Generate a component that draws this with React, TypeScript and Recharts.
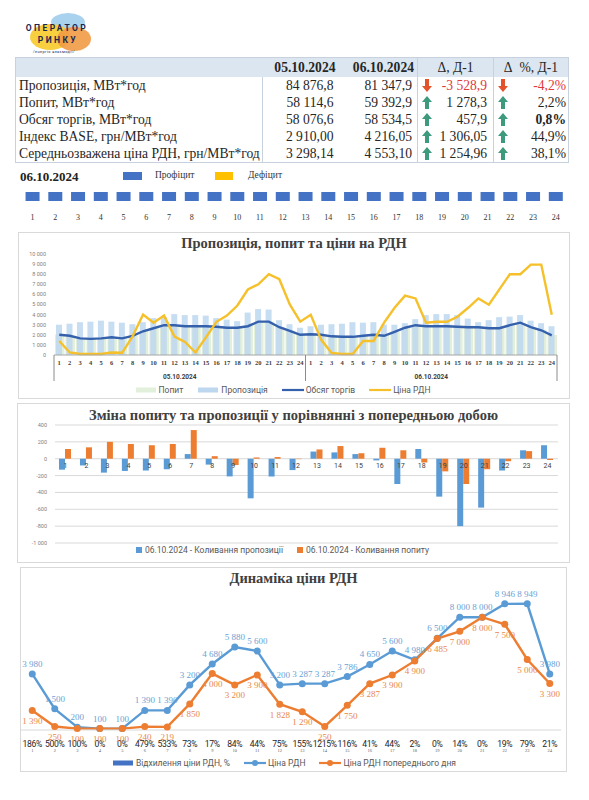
import React from 'react';
import {
  ComposedChart, BarChart, LineChart, Bar, Line, XAxis, YAxis, CartesianGrid, Legend, LabelList, Cell
} from 'recharts';

// ---- summary table ----
const ROW_LABELS = [
  'Пропозиція, МВт*год',
  'Попит, МВт*год',
  'Обсяг торгів, МВт*год',
  'Індекс BASE, грн/МВт*год',
  'Середньозважена ціна РДН, грн/МВт*год',
];
const PREV_DATE = '05.10.2024';
const CURR_DATE = '06.10.2024';
const PREV_VALUES = ['84 876,8', '58 114,6', '58 076,6', '2 910,00', '3 298,14'];
const CURR_VALUES = ['81 347,9', '59 392,9', '58 534,5', '4 216,05', '4 553,10'];
const DELTA_VALUES = ['-3 528,9', '1 278,3', '457,9', '1 306,05', '1 254,96'];
const DELTA_PCT = ['-4,2%', '2,2%', '0,8%', '44,9%', '38,1%'];

// ---- hourly data ----
const HOURS = [1, 2, 3, 4, 5, 6, 7, 8, 9, 10, 11, 12, 13, 14, 15, 16, 17, 18, 19, 20, 21, 22, 23, 24];
const BALANCE = [
  'Профіцит', 'Профіцит', 'Профіцит', 'Профіцит', 'Профіцит', 'Профіцит', 'Профіцит', 'Профіцит',
  'Профіцит', 'Профіцит', 'Профіцит', 'Профіцит', 'Профіцит', 'Профіцит', 'Профіцит', 'Профіцит',
  'Профіцит', 'Профіцит', 'Профіцит', 'Профіцит', 'Профіцит', 'Профіцит', 'Профіцит', 'Профіцит',
];

const supplyPrev = [3000, 3100, 3250, 3300, 3400, 3300, 3200, 3050, 3250, 3650, 3750, 4050, 3950, 3950, 3900, 3650, 3500, 3350, 4200, 4550, 4500, 3450, 3050, 2700];
const supplyCurr = [2850, 3000, 3050, 3100, 3250, 3200, 3250, 3000, 3000, 3150, 3550, 3950, 4050, 4050, 3950, 3600, 3250, 3450, 3750, 3800, 3950, 3400, 3150, 2850];
const demandPrev = [2020, 1920, 1660, 1620, 1660, 1760, 1670, 1920, 2370, 2670, 2960, 2960, 2860, 2860, 2860, 2800, 2710, 2710, 2860, 3300, 3310, 2760, 2410, 2010];
const demandCurr = [2130, 2050, 1860, 1790, 1820, 1940, 2010, 1950, 2300, 2690, 2980, 2950, 2970, 3010, 2920, 2930, 2810, 2670, 2710, 3000, 3190, 2730, 2500, 1990];
const volumePrev = [2000, 1900, 1650, 1600, 1650, 1750, 1650, 1900, 2350, 2650, 2950, 2950, 2850, 2850, 2850, 2800, 2700, 2700, 2850, 3300, 3300, 2750, 2400, 2000];
const volumeCurr = [2050, 2000, 1850, 1800, 1800, 1900, 2000, 1900, 2300, 2700, 2950, 2850, 2850, 2850, 2800, 2750, 2750, 2650, 2650, 2950, 3200, 2750, 2450, 1950];
const pricePrev = [1390, 250, 100, 100, 100, 240, 219, 1850, 4000, 3200, 3900, 1828, 1290, 250, 1750, 3287, 3900, 4900, 6485, 7000, 8000, 7500, 5000, 3300];
const priceCurr = [3980, 1500, 200, 100, 100, 1390, 1390, 3200, 4680, 5880, 5600, 3200, 3287, 3287, 3786, 4650, 5600, 4980, 6500, 8000, 8000, 8946, 8949, 3980];

const supplyChange = [-130, -80, -165, -145, -140, -125, 55, -70, -210, -470, -210, -135, 85, 75, 55, -20, -300, 115, -450, -800, -580, -140, 100, 160];
const demandChange = [115, 135, 200, 175, 160, 175, 340, 30, -75, 15, 20, -5, 110, 150, 65, 130, 100, -45, -150, -300, -125, -30, 90, -15];

const priceDeviation = ['186%', '500%', '100%', '0%', '0%', '479%', '533%', '73%', '17%', '84%', '44%', '75%', '155%', '1215%', '116%', '41%', '44%', '2%', '0%', '14%', '0%', '19%', '79%', '21%'];

const CH1_TICKS = [0, 1000, 2000, 3000, 4000, 5000, 6000, 7000, 8000, 9000, 10000];
const CH2_TICKS = [-1000, -800, -600, -400, -200, 0, 200, 400];

// thousands separated by a non-breaking space so tick labels never wrap
const fmt = (v: number) => (v < 0 ? '-' : '') + String(Math.abs(v)).replace(/\B(?=(\d{3})+(?!\d))/g, '\u00a0');

const SANS = 'Roboto, "Liberation Sans", sans-serif';
const SERIF = '"Liberation Serif", "Times New Roman", serif';

const statusRows = HOURS.map((h, i) => ({ hour: h, status: BALANCE[i], filled: 1 }));

const chart1Rows = [
  ...HOURS.map((h, i) => ({ key: `a${h}`, hour: h, date: PREV_DATE, supply: supplyPrev[i], demand: demandPrev[i], volume: volumePrev[i], price: pricePrev[i] })),
  ...HOURS.map((h, i) => ({ key: `b${h}`, hour: h, date: CURR_DATE, supply: supplyCurr[i], demand: demandCurr[i], volume: volumeCurr[i], price: priceCurr[i] })),
];

const chart2Rows = HOURS.map((h, i) => ({ hour: h, supply: supplyChange[i], demand: demandChange[i], base: 0 }));

const chart3Rows = HOURS.map((h, i) => ({ hour: h, curr: priceCurr[i], prev: pricePrev[i], dev: priceDeviation[i] }));

// chart 1 geometry
const CH1_W = 552;
const CH1_H = 167;
const CH1_MARGIN = { top: 22, right: 13, bottom: 2, left: 4 };
const CH1_YW = 32;
const CH1_BAND = (CH1_W - CH1_MARGIN.left - CH1_YW - CH1_MARGIN.right) / chart1Rows.length;

// chart 3 geometry
const CH3_W = 547;
const CH3_MARGIN = { top: 22, right: 6, bottom: 2, left: 1 };
const CH3_HALF = (CH3_W - CH3_MARGIN.left - CH3_MARGIN.right) / HOURS.length / 2;

const Arrow = ({ up }: { up: boolean }) => (
  <svg width={10} height={13} viewBox="0 0 10 13" style={{ position: 'absolute', left: 4, top: 2 }}>
    <polygon
      points={up ? '5,0 10,6 7,6 7,13 3,13 3,6 0,6' : '5,13 10,7 7,7 7,0 3,0 3,7 0,7'}
      fill={up ? '#3d9a7c' : '#e2532b'}
    />
  </svg>
);

const Logo = () => (
  <svg width={80} height={48} style={{ position: 'absolute', left: 18, top: 10 }}>
    <ellipse cx={50} cy={12} rx={17} ry={9} fill="#a9d2ef" />
    <ellipse cx={32} cy={27} rx={20} ry={13} fill="#f7cf3f" />
    <ellipse cx={56} cy={29} rx={17} ry={12} fill="#f19a45" opacity={0.9} />
    <text x={39} y={21} textAnchor="middle" fontSize={8.5} fontWeight="bold" letterSpacing={2.4} fill="#1d2550" fontFamily={SANS}>ОПЕРАТОР</text>
    <text x={40} y={33} textAnchor="middle" fontSize={8.5} fontWeight="bold" letterSpacing={2.4} fill="#1d2550" fontFamily={SANS}>РИНКУ</text>
    <text x={36} y={43} textAnchor="middle" fontSize={3.8} letterSpacing={0.4} fill="#1d2550" fontFamily={SANS}>/енергія взаємодії/</text>
  </svg>
);

const SummaryTable = () => {
  const cell: React.CSSProperties = { padding: 0, height: 17, lineHeight: '17px', whiteSpace: 'nowrap', overflow: 'hidden' };
  const sep = '1px solid #c8d2de';
  return (
    <table style={{ position: 'absolute', left: 15, top: 57, borderCollapse: 'collapse', tableLayout: 'fixed', width: 553, fontFamily: SERIF, fontSize: 13.6, color: '#262626', border: sep }}>
      <colgroup>
        <col style={{ width: 247 }} />
        <col style={{ width: 76 }} />
        <col style={{ width: 79 }} />
        <col style={{ width: 76 }} />
        <col style={{ width: 75 }} />
      </colgroup>
      <thead>
        <tr style={{ background: '#dce6f1', height: 19 }}>
          <th style={{ ...cell, height: 19 }} />
          <th style={{ ...cell, height: 19, textAlign: 'right', paddingRight: 3 }}>{PREV_DATE}</th>
          <th style={{ ...cell, height: 19, textAlign: 'right', paddingRight: 3 }}>{CURR_DATE}</th>
          <th style={{ ...cell, height: 19, fontWeight: 'normal', textAlign: 'center', borderLeft: sep }}>Δ, Д-1</th>
          <th style={{ ...cell, height: 19, fontWeight: 'normal', textAlign: 'center', borderLeft: sep }}>Δ&nbsp;&nbsp;%, Д-1</th>
        </tr>
      </thead>
      <tbody>
        {ROW_LABELS.map((label, i) => {
          const up = !DELTA_VALUES[i].startsWith('-');
          const color = up ? '#262626' : '#e03b3b';
          return (
            <tr key={label}>
              <td style={{ ...cell, paddingLeft: 3, borderRight: sep }}>{label}</td>
              <td style={{ ...cell, textAlign: 'right', paddingRight: 5 }}>{PREV_VALUES[i]}</td>
              <td style={{ ...cell, textAlign: 'right', paddingRight: 5 }}>{CURR_VALUES[i]}</td>
              <td style={{ ...cell, textAlign: 'right', paddingRight: 6, position: 'relative', borderLeft: sep, color }}>
                <Arrow up={up} />
                {DELTA_VALUES[i]}
              </td>
              <td style={{ ...cell, textAlign: 'right', paddingRight: 2, position: 'relative', borderLeft: sep, color, fontWeight: i === 2 ? 'bold' : 'normal' }}>
                <Arrow up={up} />
                {DELTA_PCT[i]}
              </td>
            </tr>
          );
        })}
      </tbody>
    </table>
  );
};

const StatusTick = (props: any) => {
  const { x, y, payload } = props;
  return (
    <text x={x} y={y + 19} textAnchor="middle" fontSize={8} fill="#333" fontFamily={SERIF}>{payload.value}</text>
  );
};

const StatusStrip = () => (
  <div style={{ position: 'absolute', left: 0, top: 166 }}>
    <div style={{ position: 'absolute', left: 20, top: 3, fontFamily: SERIF, fontWeight: 'bold', fontSize: 13, color: '#222', whiteSpace: 'nowrap' }}>{CURR_DATE}</div>
    <div style={{ position: 'absolute', left: 123, top: 6, width: 19, height: 8, background: '#4472c4' }} />
    <div style={{ position: 'absolute', left: 155, top: 4, fontFamily: SERIF, fontSize: 9.5, color: '#333' }}>Профіцит</div>
    <div style={{ position: 'absolute', left: 215, top: 6, width: 18, height: 8, background: '#ffc000' }} />
    <div style={{ position: 'absolute', left: 248, top: 4, fontFamily: SERIF, fontSize: 9.5, color: '#333' }}>Дефіцит</div>
    <div style={{ position: 'absolute', left: 21, top: 24 }}>
      <BarChart width={546} height={36} data={statusRows} margin={{ top: 2, right: 0, bottom: 0, left: 0 }} barCategoryGap="20%">
        <XAxis dataKey="hour" interval={0} axisLine={false} tickLine={false} tickSize={0} tickMargin={0} height={25} tick={<StatusTick />} />
        <YAxis hide domain={[0, 1]} />
        <Bar dataKey="filled" isAnimationActive={false}>
          {statusRows.map((r) => (
            <Cell key={r.hour} fill={r.status === 'Профіцит' ? '#4472c4' : '#ffc000'} />
          ))}
        </Bar>
      </BarChart>
    </div>
  </div>
);

const Panel = ({ left, top, width, height, title, titleTop, children }: any) => (
  <div style={{ position: 'absolute', left, top, width, height, border: '1px solid #d9d9d9', boxSizing: 'border-box', background: '#fff' }}>
    <div style={{ position: 'absolute', left: 0, top: titleTop, width: '100%', textAlign: 'center', fontFamily: SERIF, fontWeight: 'bold', fontSize: 14.5, color: '#404040', whiteSpace: 'nowrap' }}>{title}</div>
    <div style={{ position: 'absolute', left: -1, top: -1 }}>{children}</div>
  </div>
);

const LegendItem = ({ kind, color, label }: { kind: 'box' | 'square' | 'line' | 'dotline'; color: string; label: string }) => (
  <span style={{ display: 'inline-flex', alignItems: 'center', marginRight: 14 }}>
    <svg width={kind === 'square' ? 7 : 22} height={8} style={{ marginRight: 2 }}>
      {kind === 'box' && <rect x={1} y={1.5} width={20} height={5} fill={color} />}
      {kind === 'square' && <rect x={0} y={1} width={6} height={6} fill={color} />}
      {(kind === 'line' || kind === 'dotline') && <line x1={0} x2={22} y1={4} y2={4} stroke={color} strokeWidth={2.2} />}
      {kind === 'dotline' && <circle cx={11} cy={4} r={3} fill={color} />}
    </svg>
    {label}
  </span>
);

const legendBox: React.CSSProperties = { display: 'flex', justifyContent: 'center', alignItems: 'center', height: 14, fontFamily: SANS, fontSize: 8.5, color: '#595959', whiteSpace: 'nowrap' };

const Chart1Tick = (props: any) => {
  const { x, y, index } = props;
  const row = chart1Rows[index];
  if (!row) return null;
  const half = CH1_BAND / 2;
  return (
    <g>
      <text x={x} y={y + 10} textAnchor="middle" fontSize={6.5} fontWeight="bold" fill="#404040" fontFamily={SERIF}>{row.hour}</text>
      {row.hour === 1 && <line x1={x - half} x2={x - half} y1={y} y2={y + 26} stroke="#8c8c8c" />}
      {index === chart1Rows.length - 1 && <line x1={x + half} x2={x + half} y1={y} y2={y + 26} stroke="#8c8c8c" />}
      {row.hour === 12 && (
        <text x={x + half} y={y + 24} textAnchor="middle" fontSize={6.5} fontWeight="bold" fill="#404040" fontFamily={SANS}>{row.date}</text>
      )}
    </g>
  );
};

const SupplyDemandChart = () => (
  <ComposedChart width={CH1_W} height={CH1_H} data={chart1Rows} margin={CH1_MARGIN}>
    <XAxis xAxisId="main" dataKey="key" interval={0} height={28} tickSize={0} tickMargin={0} tickLine={false} axisLine={{ stroke: '#a6a6a6' }} tick={<Chart1Tick />} />
    <XAxis xAxisId="bg" dataKey="key" hide height={0} />
    <YAxis width={CH1_YW} domain={[0, 10000]} ticks={CH1_TICKS} interval={0} tickFormatter={fmt} axisLine={false} tickLine={false} tick={{ fontSize: 5.5, fill: '#7f7f7f', fontFamily: SANS }} />
    <Bar xAxisId="bg" dataKey="demand" name="Попит" fill="#e2efda" barSize={CH1_BAND} isAnimationActive={false} />
    <Bar xAxisId="main" dataKey="supply" name="Пропозиція" fill="#bdd7ee" fillOpacity={0.85} barSize={6} isAnimationActive={false} />
    <Line xAxisId="main" dataKey="volume" name="Обсяг торгів" stroke="#3560ac" strokeWidth={2.4} dot={false} isAnimationActive={false} />
    <Line xAxisId="main" dataKey="price" name="Ціна РДН" stroke="#f5c02a" strokeWidth={2.4} dot={false} isAnimationActive={false} />
    <Legend verticalAlign="bottom" height={14} content={() => (
      <div style={legendBox}>
        <LegendItem kind="box" color="#e2efda" label="Попит" />
        <LegendItem kind="box" color="#bdd7ee" label="Пропозиція" />
        <LegendItem kind="line" color="#3560ac" label="Обсяг торгів" />
        <LegendItem kind="line" color="#f5c02a" label="Ціна РДН" />
      </div>
    )} />
  </ComposedChart>
);

const ChangeChart = () => (
  <ComposedChart width={553} height={160} data={chart2Rows} margin={{ top: 22, right: 12, bottom: 6, left: 4 }} barGap={0}>
    <CartesianGrid vertical={false} stroke="#d9d9d9" />
    <XAxis dataKey="hour" hide />
    <YAxis width={34} domain={[-1000, 400]} ticks={CH2_TICKS} interval={0} tickFormatter={fmt} axisLine={false} tickLine={false} tick={{ fontSize: 5.5, fill: '#7f7f7f', fontFamily: SANS }} />
    <Bar dataKey="supply" name="06.10.2024 - Коливання пропозиції" fill="#5b9bd5" barSize={6} isAnimationActive={false} />
    <Bar dataKey="demand" name="06.10.2024 - Коливання попиту" fill="#ed7d31" barSize={6} isAnimationActive={false} />
    <Line dataKey="base" stroke="none" dot={false} activeDot={false} legendType="none" isAnimationActive={false}>
      <LabelList dataKey="hour" position="bottom" offset={4} fontSize={7} fill="#404040" fontFamily={SANS} />
    </Line>
    <Legend verticalAlign="bottom" height={14} content={() => (
      <div style={legendBox}>
        <LegendItem kind="square" color="#5b9bd5" label="06.10.2024 - Коливання пропозиції" />
        <LegendItem kind="square" color="#ed7d31" label="06.10.2024 - Коливання попиту" />
      </div>
    )} />
  </ComposedChart>
);

const PriceTick = (props: any) => {
  const { x, y, index } = props;
  const row = chart3Rows[index];
  if (!row) return null;
  return (
    <g>
      <text x={x} y={y + 17} textAnchor="middle" fontSize={8.6} letterSpacing={-0.3} fill="#262626" fontFamily={SANS}>{row.dev}</text>
      <text x={x} y={y + 22} textAnchor="middle" fontSize={4.5} fill="#595959" fontFamily={SERIF}>{row.hour}</text>
    </g>
  );
};

const PriceChart = () => (
  <LineChart width={CH3_W} height={205} data={chart3Rows} margin={CH3_MARGIN}>
    <XAxis dataKey="hour" interval={0} height={26} padding={{ left: CH3_HALF, right: CH3_HALF }} tickSize={0} tickMargin={0} tickLine={false} axisLine={{ stroke: '#d9d9d9' }} tick={<PriceTick />} />
    <YAxis hide domain={[0, 10000]} />
    <Line dataKey="curr" name="Ціна РДН" stroke="#5b9bd5" strokeWidth={2.4} dot={{ r: 3.5, fill: '#5b9bd5', stroke: 'none' }} isAnimationActive={false}>
      <LabelList dataKey="curr" position="top" offset={7} formatter={(v: any) => fmt(Number(v))} fontSize={9} fill="#6a9fd4" fontFamily={SERIF} />
    </Line>
    <Line dataKey="prev" name="Ціна РДН попереднього дня" stroke="#ed7d31" strokeWidth={2.4} dot={{ r: 3.5, fill: '#ed7d31', stroke: 'none' }} isAnimationActive={false}>
      <LabelList dataKey="prev" position="bottom" offset={7} formatter={(v: any) => fmt(Number(v))} fontSize={9} fill="#e8894a" fontFamily={SERIF} />
    </Line>
    <Legend verticalAlign="bottom" height={14} content={() => (
      <div style={legendBox}>
        <LegendItem kind="box" color="#4472c4" label="Відхилення ціни РДН, %" />
        <LegendItem kind="dotline" color="#5b9bd5" label="Ціна РДН" />
        <LegendItem kind="dotline" color="#ed7d31" label="Ціна РДН попереднього дня" />
      </div>
    )} />
  </LineChart>
);

export default function App() {
  return (
    <div style={{ position: 'absolute', left: 0, top: 0, width: 589, height: 800, background: '#fff', fontFamily: SERIF, overflow: 'hidden' }}>
      <Logo />
      <SummaryTable />
      <StatusStrip />
      <Panel left={18} top={232} width={552} height={167} title="Пропозиція, попит та ціни на РДН" titleTop={2}>
        <SupplyDemandChart />
      </Panel>
      <Panel left={17} top={403} width={553} height={160} title="Зміна попиту та пропозиції у порівнянні з попередньою добою" titleTop={3}>
        <ChangeChart />
      </Panel>
      <Panel left={20} top={567} width={547} height={205} title="Динаміка ціни РДН" titleTop={2}>
        <PriceChart />
      </Panel>
    </div>
  );
}
